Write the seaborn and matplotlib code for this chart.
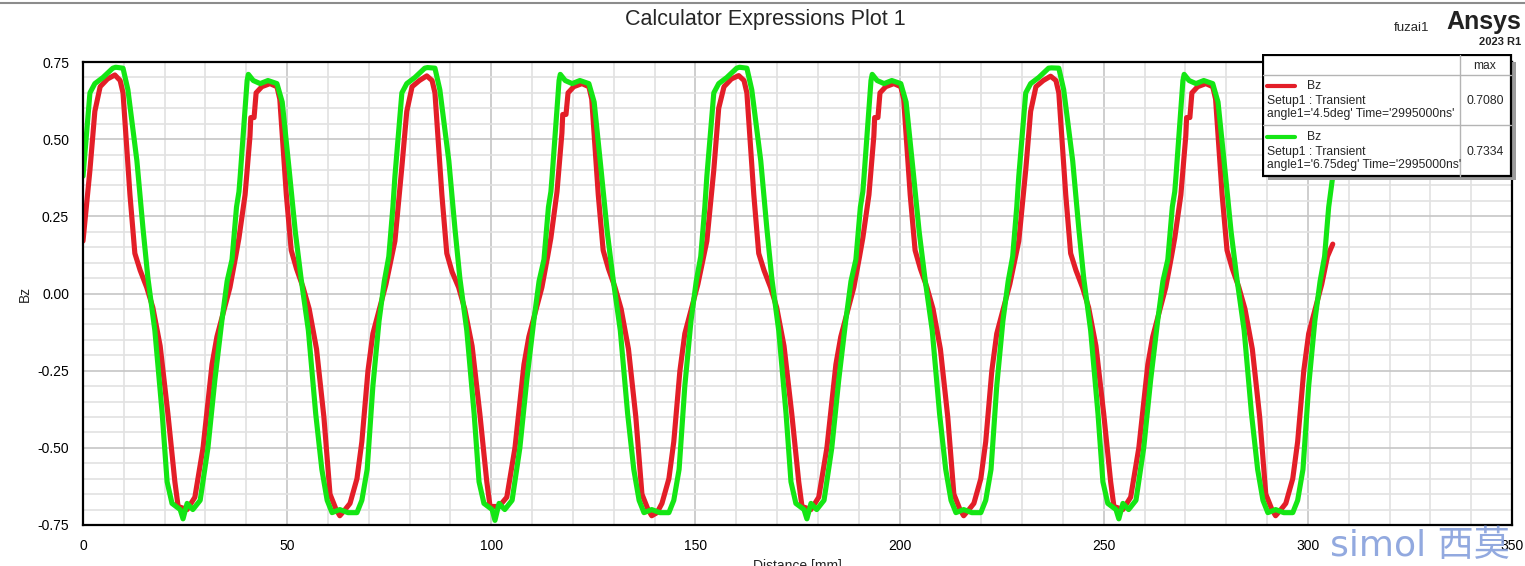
import matplotlib
matplotlib.use('Agg')
import matplotlib.pyplot as plt
import seaborn as sns
import pandas as pd
from matplotlib.ticker import MultipleLocator, FormatStrFormatter
from matplotlib.patches import Rectangle
from matplotlib.lines import Line2D

# values (Distance [mm], Bz)
red_dist = [
    0.0, 1.7, 2.9, 4.2, 6.0, 7.8, 9.1, 9.8, 11.5, 12.7, 14.0, 15.6, 17.1, 18.9, 20.8, 22.5, 23.3, 25.5, 27.4, 29.4, 31.6, 32.8, 34.2, 36.0, 37.4,
    38.2, 39.7, 40.9, 41.1, 41.9, 42.4, 43.8, 45.8, 47.5, 48.2, 49.8, 51.0, 52.3, 53.9, 55.4, 57.2, 59.0, 60.5, 62.0, 62.9, 64.2, 65.4, 67.1, 68.3, 69.8, 71.0, 72.4, 74.2, 75.6,
    76.4, 78.1, 79.3, 80.6, 82.4, 84.2, 85.5, 86.2, 87.9, 89.1, 90.4, 92.0, 93.5, 95.3, 97.2, 98.9, 99.7, 101.9, 103.8, 105.8, 108.0, 109.2, 110.6, 112.4, 113.8,
    114.6, 116.1, 117.3, 117.5, 118.3, 118.8, 120.2, 122.2, 123.9, 124.6, 126.2, 127.4, 128.7, 130.3, 131.8, 133.6, 135.4, 136.9, 138.4, 139.3, 140.6, 141.8, 143.5, 144.7, 146.2, 147.4, 148.8, 150.6, 152.0,
    152.8, 154.5, 155.7, 157.0, 158.8, 160.6, 161.9, 162.6, 164.3, 165.5, 166.8, 168.4, 169.9, 171.7, 173.6, 175.3, 176.1, 178.3, 180.2, 182.2, 184.4, 185.6, 187.0, 188.8, 190.2,
    191.0, 192.5, 193.7, 193.9, 194.7, 195.2, 196.6, 198.6, 200.3, 201.0, 202.6, 203.8, 205.1, 206.7, 208.2, 210.0, 211.8, 213.3, 214.8, 215.7, 217.0, 218.2, 219.9, 221.1, 222.6, 223.8, 225.2, 227.0, 228.4,
    229.2, 230.9, 232.1, 233.4, 235.2, 237.0, 238.3, 239.0, 240.7, 241.9, 243.2, 244.8, 246.3, 248.1, 250.0, 251.7, 252.5, 254.7, 256.6, 258.6, 260.8, 262.0, 263.4, 265.2, 266.6,
    267.4, 268.9, 270.1, 270.3, 271.1, 271.6, 273.0, 275.0, 276.7, 277.4, 279.0, 280.2, 281.5, 283.1, 284.6, 286.4, 288.2, 289.7, 291.2, 292.1, 293.4, 294.6, 296.3, 297.5, 299.0, 300.2, 301.6, 303.4, 304.8, 306.1,
]
red_bz = [
    0.17, 0.40, 0.59, 0.67, 0.695, 0.708, 0.69, 0.65, 0.32, 0.13, 0.075, 0.02, -0.045, -0.17, -0.39, -0.61, -0.69, -0.70, -0.66, -0.50, -0.23, -0.14, -0.07, 0.02, 0.12,
    0.18, 0.32, 0.51, 0.57, 0.57, 0.65, 0.67, 0.68, 0.67, 0.63, 0.32, 0.14, 0.08, 0.02, -0.05, -0.18, -0.40, -0.65, -0.70, -0.72, -0.70, -0.68, -0.60, -0.48, -0.25, -0.13, -0.06, 0.03, 0.12,
    0.17, 0.41, 0.59, 0.67, 0.69, 0.705, 0.69, 0.65, 0.32, 0.13, 0.07, 0.02, -0.05, -0.17, -0.39, -0.61, -0.69, -0.69, -0.66, -0.50, -0.23, -0.14, -0.07, 0.02, 0.12,
    0.18, 0.33, 0.52, 0.58, 0.58, 0.65, 0.67, 0.68, 0.67, 0.63, 0.32, 0.14, 0.08, 0.02, -0.05, -0.18, -0.40, -0.65, -0.70, -0.72, -0.71, -0.68, -0.60, -0.48, -0.25, -0.13, -0.06, 0.03, 0.12,
    0.17, 0.40, 0.60, 0.67, 0.695, 0.706, 0.69, 0.65, 0.32, 0.13, 0.075, 0.02, -0.045, -0.17, -0.39, -0.61, -0.69, -0.70, -0.66, -0.50, -0.23, -0.14, -0.07, 0.02, 0.12,
    0.18, 0.32, 0.51, 0.57, 0.57, 0.65, 0.67, 0.68, 0.67, 0.63, 0.32, 0.14, 0.08, 0.02, -0.05, -0.18, -0.40, -0.65, -0.70, -0.72, -0.70, -0.68, -0.60, -0.48, -0.25, -0.13, -0.06, 0.03, 0.12,
    0.17, 0.40, 0.59, 0.67, 0.69, 0.704, 0.69, 0.65, 0.32, 0.13, 0.075, 0.02, -0.045, -0.17, -0.39, -0.61, -0.69, -0.70, -0.66, -0.50, -0.23, -0.14, -0.07, 0.02, 0.12,
    0.18, 0.32, 0.51, 0.57, 0.57, 0.65, 0.67, 0.68, 0.67, 0.63, 0.32, 0.14, 0.08, 0.02, -0.05, -0.18, -0.40, -0.65, -0.70, -0.72, -0.70, -0.68, -0.60, -0.48, -0.25, -0.13, -0.06, 0.03, 0.12, 0.16,
]
green_dist = [
    0.0, 1.7, 2.9, 4.9, 7.3, 8.0, 9.8, 11.0, 13.2, 14.7, 15.9, 17.6, 19.4, 20.6, 21.8, 23.8, 24.5, 25.5, 26.9, 28.7, 30.6, 32.3, 34.0, 35.3, 36.5, 37.6,
    38.2, 38.5, 40.2, 40.5, 41.7, 43.4, 45.3, 47.5, 48.8, 50.5, 52.0, 53.4, 55.2, 57.0, 58.5, 59.8, 61.0, 62.9, 64.9, 67.1, 68.3, 69.6, 71.0, 72.5, 73.8, 74.9, 75.9,
    76.4, 78.1, 79.3, 81.3, 83.7, 84.4, 86.2, 87.4, 89.6, 91.1, 92.3, 94.0, 95.8, 97.0, 98.2, 100.2, 100.9, 101.9, 103.3, 105.1, 107.0, 108.7, 110.4, 111.7, 112.9, 114.0,
    114.6, 114.9, 116.6, 116.9, 118.1, 119.8, 121.7, 123.9, 125.2, 126.9, 128.4, 129.8, 131.6, 133.4, 134.9, 136.2, 137.4, 139.3, 141.3, 143.5, 144.7, 146.0, 147.4, 148.9, 150.2, 151.3, 152.3,
    152.8, 154.5, 155.7, 157.7, 160.1, 160.8, 162.6, 163.8, 166.0, 167.5, 168.7, 170.4, 172.2, 173.4, 174.6, 176.6, 177.3, 178.3, 179.7, 181.5, 183.4, 185.1, 186.8, 188.1, 189.3, 190.4,
    191.0, 191.3, 193.0, 193.3, 194.5, 196.2, 198.1, 200.3, 201.6, 203.3, 204.8, 206.2, 208.0, 209.8, 211.3, 212.6, 213.8, 215.7, 217.7, 219.9, 221.1, 222.4, 223.8, 225.3, 226.6, 227.7, 228.7,
    229.2, 230.9, 232.1, 234.1, 236.5, 237.2, 239.0, 240.2, 242.4, 243.9, 245.1, 246.8, 248.6, 249.8, 251.0, 253.0, 253.7, 254.7, 256.1, 257.9, 259.8, 261.5, 263.2, 264.5, 265.7, 266.8,
    267.4, 267.7, 269.4, 269.7, 270.9, 272.6, 274.5, 276.7, 278.0, 279.7, 281.2, 282.6, 284.4, 286.2, 287.7, 289.0, 290.2, 292.1, 294.1, 296.3, 297.5, 298.8, 300.2, 301.7, 303.0, 304.1, 305.1, 306.1,
]
green_bz = [
    0.38, 0.65, 0.68, 0.70, 0.73, 0.733, 0.73, 0.66, 0.43, 0.21, 0.05, -0.12, -0.39, -0.61, -0.68, -0.70, -0.73, -0.68, -0.70, -0.67, -0.50, -0.28, -0.09, 0.04, 0.11, 0.28,
    0.33, 0.38, 0.69, 0.71, 0.69, 0.68, 0.69, 0.68, 0.62, 0.40, 0.20, 0.05, -0.12, -0.39, -0.57, -0.67, -0.71, -0.70, -0.71, -0.71, -0.67, -0.57, -0.30, -0.09, 0.04, 0.12, 0.28,
    0.38, 0.65, 0.68, 0.70, 0.73, 0.732, 0.73, 0.66, 0.43, 0.21, 0.05, -0.12, -0.39, -0.61, -0.68, -0.70, -0.735, -0.68, -0.70, -0.67, -0.50, -0.28, -0.09, 0.04, 0.11, 0.28,
    0.33, 0.38, 0.69, 0.71, 0.69, 0.68, 0.69, 0.68, 0.62, 0.40, 0.20, 0.05, -0.12, -0.39, -0.57, -0.67, -0.71, -0.70, -0.71, -0.71, -0.67, -0.57, -0.30, -0.09, 0.04, 0.12, 0.28,
    0.38, 0.65, 0.68, 0.70, 0.73, 0.733, 0.73, 0.66, 0.43, 0.21, 0.05, -0.12, -0.39, -0.61, -0.68, -0.70, -0.73, -0.68, -0.70, -0.67, -0.50, -0.28, -0.09, 0.04, 0.11, 0.28,
    0.33, 0.38, 0.69, 0.71, 0.69, 0.68, 0.69, 0.68, 0.62, 0.40, 0.20, 0.05, -0.12, -0.39, -0.57, -0.67, -0.71, -0.70, -0.71, -0.71, -0.67, -0.57, -0.30, -0.09, 0.04, 0.12, 0.28,
    0.38, 0.65, 0.68, 0.70, 0.73, 0.731, 0.73, 0.66, 0.43, 0.21, 0.05, -0.12, -0.39, -0.61, -0.68, -0.70, -0.73, -0.68, -0.70, -0.67, -0.50, -0.28, -0.09, 0.04, 0.11, 0.28,
    0.33, 0.38, 0.69, 0.71, 0.69, 0.68, 0.69, 0.68, 0.62, 0.40, 0.20, 0.05, -0.12, -0.39, -0.57, -0.67, -0.71, -0.70, -0.71, -0.71, -0.67, -0.57, -0.30, -0.09, 0.04, 0.12, 0.28, 0.38,
]

series_names = ["angle1='4.5deg'", "angle1='6.75deg'"]
series_max = ['0.7080', '0.7334']
series_colors = ['#e31e28', '#14e614']

sns.set_style('white')
plt.rcParams['font.family'] = ['Liberation Sans', 'DejaVu Sans']

df = pd.concat([
    pd.DataFrame({'dist': red_dist, 'bz': red_bz, 'series': series_names[0]}),
    pd.DataFrame({'dist': green_dist, 'bz': green_bz, 'series': series_names[1]}),
])

W, H = 1525, 566
fig = plt.figure(figsize=(W / 100, H / 100), dpi=100)
ax = fig.add_axes([83 / W, 41 / H, 1429 / W, 463 / H])

sns.lineplot(data=df, x='dist', y='bz', hue='series', hue_order=series_names,
             palette=series_colors, sort=False, estimator=None, lw=3.7,
             legend=False, ax=ax)
for ln in ax.lines:
    ln.set_solid_joinstyle('round')

ax.set_xlim(0, 350)
ax.set_ylim(-0.75, 0.75)
ax.xaxis.set_major_locator(MultipleLocator(50))
ax.xaxis.set_minor_locator(MultipleLocator(10))
ax.yaxis.set_major_locator(MultipleLocator(0.25))
ax.yaxis.set_minor_locator(MultipleLocator(0.05))
ax.yaxis.set_major_formatter(FormatStrFormatter('%.2f'))
ax.grid(which='major', color='#c6c6c6', lw=1.2)
ax.grid(which='minor', color='#e2e2e2', lw=1.2)
ax.set_axisbelow(True)
ax.tick_params(which='major', direction='out', length=7, width=1.4, labelsize=10, pad=3, colors='black')
ax.tick_params(which='minor', direction='out', length=3.6, width=1.4, colors='black')
for s in ax.spines.values():
    s.set_visible(True)
    s.set_color('black')
    s.set_linewidth(1.6)

ax.set_xlabel('Distance [mm]', fontsize=10)
ax.xaxis.set_label_coords(0.5, -0.074)
ax.set_ylabel('Bz', fontsize=10)
ax.yaxis.set_label_coords(-0.036, 0.5)

# header texts
fig.text(0.5016, 1 - 19 / H, 'Calculator Expressions Plot 1', ha='center', va='center', fontsize=15.5)
fig.text(1412 / W, 1 - 28 / H, 'fuzai1', ha='center', va='center', fontsize=9.5)
fig.text(1521 / W, 1 - 22 / H, 'Ansys', ha='right', va='center', fontsize=18, weight='bold', color='#222222')
fig.text(1521 / W, 1 - 42 / H, '2023 R1', ha='right', va='center', fontsize=8, weight='bold', color='#222222')
fig.add_artist(Line2D([0, 1], [1 - 3 / H] * 2, transform=fig.transFigure, color='#8c8c8c', lw=1.5))

# legend table (Ansys style)
lax = fig.add_axes([1262 / W, 1 - 181 / H, 255 / W, 127 / H])
lax.set_xlim(0, 255)
lax.set_ylim(127, 0)
lax.axis('off')
lax.add_patch(Rectangle((6, 8), 248, 118, facecolor='#9c9c9c', edgecolor='none', zorder=1))
lax.add_patch(Rectangle((0.8, 0.8), 248, 121, facecolor='white', edgecolor='black', lw=1.6, zorder=2))
lax.plot([198, 198], [1, 121.8], color='#b4b4b4', lw=1, zorder=3)
lax.plot([1, 248.8], [21, 21], color='#b4b4b4', lw=1, zorder=3)
lax.plot([1, 248.8], [71, 71], color='#b4b4b4', lw=1, zorder=3)
lax.text(223, 12, 'max', ha='center', va='center', fontsize=8.7, zorder=4)
for i, (name, mx, col) in enumerate(zip(series_names, series_max, series_colors)):
    y0 = 32 + i * 50.5
    lax.plot([5, 33], [y0, y0], color=col, lw=3, zorder=4)
    lax.text(45, y0, 'Bz', ha='left', va='center', fontsize=8.7, zorder=4)
    lax.text(5, y0 + 15, 'Setup1 : Transient', ha='left', va='center', fontsize=8.7, zorder=4)
    lax.text(5, y0 + 28, name + " Time='2995000ns'", ha='left', va='center', fontsize=8.7, zorder=4)
    lax.text(223, y0 + 15, mx, ha='center', va='center', fontsize=8.7, zorder=4)

# watermark
fig.text(1330 / W, 1 - 546 / H, 'simol 西莫', ha='left', va='center', fontsize=26,
         color='#7f9ada', alpha=0.85, family=['DejaVu Sans', 'Noto Sans CJK SC'])

fig.savefig('out.png', dpi=100)
plt.close(fig)
